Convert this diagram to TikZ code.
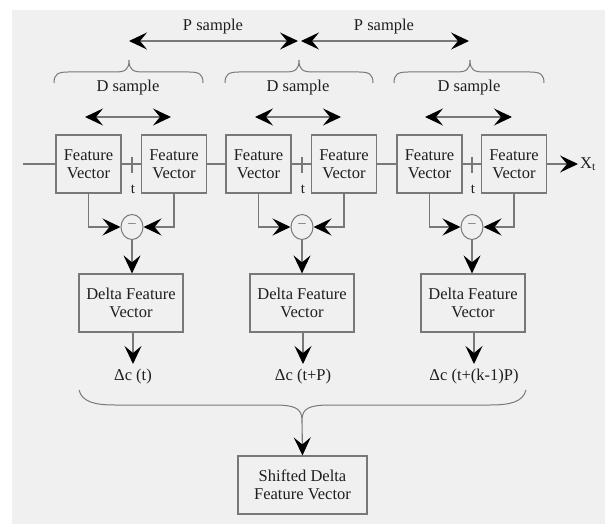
\documentclass[tikz,border=0pt]{standalone}
\usepackage{fontspec}
\setmainfont{Liberation Serif}
\usetikzlibrary{arrows.meta,shapes.geometric}
\definecolor{bg}{RGB}{240,240,240}
\definecolor{ln}{RGB}{120,120,120}
\definecolor{tx}{RGB}{30,30,30}
\begin{document}
\begin{tikzpicture}[x=1pt,y=-1pt,
  font=\fontsize{16.5}{18.5}\selectfont,
  every node/.style={text=tx},
  wire/.style={draw=ln,line width=1.1pt},
  headtip/.tip={Stealth[length=18pt,width=17pt,inset=7pt,color=black]},
  arr/.style={wire,-headtip},
  darr/.style={wire,headtip-headtip},
  fvbox/.style={draw=ln,line width=1.2pt,minimum width=65pt,minimum height=58pt,inner sep=0pt,align=center},
  dbox/.style={fvbox,minimum width=104pt},
  shbox/.style={fvbox,minimum width=129pt},
  diffnode/.style={draw=ln,line width=1pt,ellipse,minimum width=22pt,minimum height=25pt,inner sep=0pt},
  lbl/.style={inner sep=1pt},
  outlbl/.style={inner sep=1pt,outer sep=4pt,anchor=north}
]
% canvas
\useasboundingbox (0,0) rectangle (605,524);
\fill[white] (0,0) rectangle (605,524);
\fill[bg] (12,10) rectangle (605,524);

% P sample spans
\coordinate (pa) at (129,41);
\coordinate (pb) at (298,41);
\coordinate (pc) at (301,41);
\coordinate (pd) at (469,41);
\draw[darr] (pa) -- (pb);
\draw[darr] (pc) -- (pd);
\node[lbl] (p1) at (213,27) {P sample};
\node[lbl] (p2) at (384,27) {P sample};

% D sample braces, labels and spans
\foreach \l/\m/\r in {54/129/203, 225/299/373, 394/470/544}{
  \draw[wire,line width=1pt] (\l,83) .. controls (\l,74) and (\l+4,72) .. (\l+14,72) -- (\m-14,72)
    .. controls (\m-4,72) and (\m,70) .. (\m,60)
    .. controls (\m,70) and (\m+4,72) .. (\m+14,72) -- (\r-14,72)
    .. controls (\r-4,72) and (\r,74) .. (\r,83);
}
\node[lbl] (ds1) at (128,88) {D sample};
\node[lbl] (ds2) at (298,88) {D sample};
\node[lbl] (ds3) at (469,88) {D sample};
\coordinate (da1) at (85,117);  \coordinate (db1) at (171,117);
\coordinate (da2) at (255,117); \coordinate (db2) at (341,117);
\coordinate (da3) at (425,117); \coordinate (db3) at (512,117);
\draw[darr] (da1) -- (db1);
\draw[darr] (da2) -- (db2);
\draw[darr] (da3) -- (db3);

% feature vectors on the time line
\node[fvbox] (fv1) at (88.5,164) {Feature\\Vector};
\node[fvbox] (fv2) at (174,164) {Feature\\Vector};
\node[fvbox] (fv3) at (258.5,164) {Feature\\Vector};
\node[fvbox] (fv4) at (344,164) {Feature\\Vector};
\node[fvbox] (fv5) at (429.5,164) {Feature\\Vector};
\node[fvbox] (fv6) at (514,164) {Feature\\Vector};
\coordinate (start) at (23,164);
\node[inner sep=2pt,anchor=west] (xt) at (578,164) {X\textsubscript{t}};
\draw[wire] (start) -- (fv1.west);
\draw[wire] (fv1.east) -- (fv2.west);
\draw[wire] (fv2.east) -- (fv3.west);
\draw[wire] (fv3.east) -- (fv4.west);
\draw[wire] (fv4.east) -- (fv5.west);
\draw[wire] (fv5.east) -- (fv6.west);
\draw[arr] (fv6.east) -- (xt.west);

% time marks
\foreach \x/\n in {132/1, 302/2, 472/3}{
  \coordinate (tk\n a) at (\x,157);
  \coordinate (tk\n b) at (\x,173);
  \draw[wire] (tk\n a) -- (tk\n b);
  \node[lbl,font=\fontsize{15}{16}\selectfont] (t\n) at (\x+1,189) {t};
}

% differences
\node[diffnode] (m1) at (132,227) {\textcolor{ln}{−}};
\node[diffnode] (m2) at (302,227) {\textcolor{ln}{−}};
\node[diffnode] (m3) at (472,227) {\textcolor{ln}{−}};
\draw[arr] (fv1.south) |- (m1.west);
\draw[arr] (fv2.south) |- (m1.east);
\draw[arr] (fv3.south) |- (m2.west);
\draw[arr] (fv4.south) |- (m2.east);
\draw[arr] (fv5.south) |- (m3.west);
\draw[arr] (fv6.south) |- (m3.east);

% delta feature vectors
\node[dbox] (d1) at (131,303) {Delta Feature\\Vector};
\node[dbox] (d2) at (302,303) {Delta Feature\\Vector};
\node[dbox] (d3) at (473,303) {Delta Feature\\Vector};
\draw[arr] (m1.south) -- (m1.south |- d1.north);
\draw[arr] (m2.south) -- (m2.south |- d2.north);
\draw[arr] (m3.south) -- (m3.south |- d3.north);

% outputs
\node[outlbl] (o1) at (133,364) {Δc (t)};
\node[outlbl] (o2) at (303,364) {Δc (t+P)};
\node[outlbl] (o3) at (474,364) {Δc (t+(k-1)P)};
\draw[arr] (d1.south -| o1.north) -- (o1.north);
\draw[arr] (d2.south -| o2.north) -- (o2.north);
\draw[arr] (d3.south -| o3.north) -- (o3.north);

% collecting brace
\draw[wire,line width=1pt] (79,390) .. controls (82,402) and (95,405) .. (115,405) -- (274,405)
  .. controls (294,405) and (302,408) .. (302,420)
  .. controls (302,408) and (310,405) .. (330,405) -- (490,405)
  .. controls (510,405) and (523,402) .. (526,390);
\coordinate (btip) at (302,420);

% shifted delta feature vector
\node[shbox] (sh) at (302.5,485) {Shifted Delta\\Feature Vector};
\draw[arr] (btip) -- (sh.north);
\end{tikzpicture}
\end{document}
